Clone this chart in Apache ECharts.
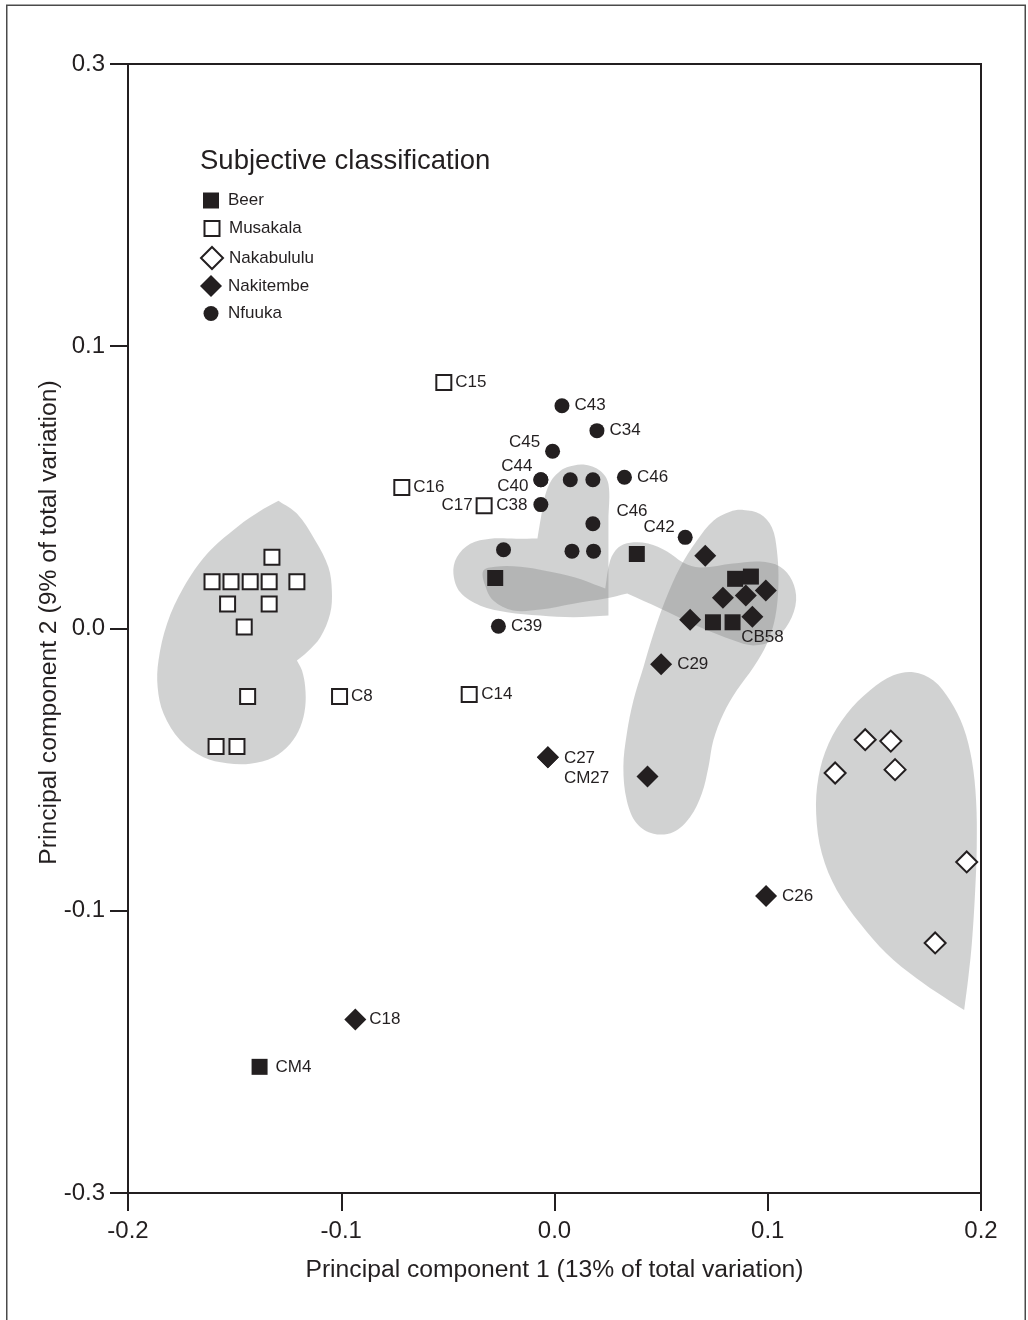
<!DOCTYPE html>
<html><head><meta charset="utf-8">
<script src="https://cdn.jsdelivr.net/npm/echarts@6/dist/echarts.min.js"></script>
<style>html,body{margin:0;padding:0;background:#fff}#c{width:1028px;height:1320px}</style>
</head><body><div id="c"></div>
<script>
// ---- categories / tick labels ----
const seriesNames = ['Beer', 'Musakala', 'Nakabululu', 'Nakitembe', 'Nfuuka'];
const xTickLabels = ['-0.2', '-0.1', '0.0', '0.1', '0.2'];
const yTickLabels = ['-0.3', '-0.1', '0.0', '0.1', '0.3'];
const xTitle = 'Principal component 1 (13% of total variation)';
const yTitle = 'Principal component 2 (9% of total variation)';
const legendTitle = 'Subjective classification';

// ---- points: [PC1, PC2, sample label] ----
const beerPoints = [
  [-0.0278, 0.0179, ''], [0.0386, 0.0264, ''], [0.0847, 0.0176, ''], [0.0921, 0.0184, ''],
  [0.0743, 0.0022, ''], [0.0835, 0.0022, ''], [-0.1383, -0.1553, 'CM4']
];
const musakalaPoints = [
  [-0.1325, 0.0252, ''], [-0.1606, 0.0166, ''], [-0.1517, 0.0166, ''], [-0.1427, 0.0166, ''],
  [-0.1338, 0.0166, ''], [-0.1208, 0.0166, ''], [-0.1533, 0.0087, ''], [-0.1338, 0.0087, ''],
  [-0.1455, 0.0005, ''], [-0.1439, -0.0241, ''], [-0.1587, -0.0418, ''], [-0.1489, -0.0418, ''],
  [-0.1008, -0.0241, 'C8'], [-0.0519, 0.0872, 'C15'], [-0.0716, 0.0500, 'C16'],
  [-0.0330, 0.0435, 'C17'], [-0.0400, -0.0234, 'C14']
];
const nakabululuPoints = [
  [0.1457, -0.0394, ''], [0.1577, -0.0399, ''], [0.1316, -0.0512, ''], [0.1597, -0.0500, ''],
  [0.1933, -0.0827, ''], [0.1785, -0.1114, '']
];
const nakitembePoints = [
  [0.0707, 0.0258, ''], [0.0790, 0.0109, ''], [0.0897, 0.0117, ''], [0.0991, 0.0135, ''],
  [0.0636, 0.0031, ''], [0.0928, 0.0042, 'CB58'], [0.0500, -0.0127, 'C29'], [0.0436, -0.0524, ''],
  [-0.0031, -0.0456, 'C27'], [-0.0031, -0.0456, 'CM27'], [0.0992, -0.0948, 'C26'],
  [-0.0934, -0.1385, 'C18']
];
const nfuukaPoints = [
  [0.0035, 0.0789, 'C43'], [0.0199, 0.0701, 'C34'], [-0.0009, 0.0628, 'C45'],
  [-0.0064, 0.0527, 'C44'], [-0.0064, 0.0527, 'C40'], [0.0074, 0.0527, ''], [0.0180, 0.0527, ''],
  [0.0328, 0.0536, 'C46'], [-0.0064, 0.0439, 'C38'], [0.0180, 0.0371, 'C46'],
  [-0.0239, 0.0279, ''], [0.0082, 0.0274, ''], [0.0183, 0.0274, ''],
  [0.0613, 0.0323, 'C42'], [-0.0263, 0.0008, 'C39']
];

// ---- group outlines (PC1, PC2); a repeated vertex marks a sharp corner ----
const blobMusakala = [
  [-0.1294, 0.0453], [-0.1294, 0.0453], [-0.1208, 0.0407], [-0.1122, 0.0312], [-0.1060, 0.0217], [-0.1044, 0.0135],
  [-0.1052, 0.0053], [-0.1098, -0.0031], [-0.1161, -0.0084], [-0.1208, -0.0113], [-0.1208, -0.0113], [-0.1184, -0.0149],
  [-0.1169, -0.0208], [-0.1169, -0.0278], [-0.1192, -0.0349], [-0.1239, -0.0408], [-0.1317, -0.0456],
  [-0.1427, -0.0479], [-0.1536, -0.0477], [-0.1646, -0.0456], [-0.1755, -0.0396], [-0.1833, -0.0302],
  [-0.1861, -0.0208], [-0.1857, -0.0113], [-0.1817, 0.0017], [-0.1739, 0.0146], [-0.1630, 0.0264],
  [-0.1489, 0.0359], [-0.1364, 0.0424]
];
const blobNfuuka = [
  [0.0058, 0.0571], [0.0136, 0.0581], [0.0214, 0.0559], [0.0253, 0.0512], [0.0253, 0.0382],
  [0.0253, 0.0170], [0.0253, 0.0046], [0.0253, 0.0046], [0.0089, 0.0040], [-0.0067, 0.0046], [-0.0223, 0.0058],
  [-0.0348, 0.0081], [-0.0442, 0.0128], [-0.0474, 0.0194], [-0.0458, 0.0252], [-0.0395, 0.0300],
  [-0.0301, 0.0318], [-0.0176, 0.0318], [-0.0080, 0.0319], [-0.0080, 0.0319], [-0.0062, 0.0400], [-0.0044, 0.0471],
  [-0.0015, 0.0524], [0.0019, 0.0553]
];
const blobBeer = [
  [-0.0334, 0.0205], [-0.0278, 0.0219], [-0.0161, 0.0219], [-0.0044, 0.0205], [0.0097, 0.0181],
  [0.0214, 0.0149], [0.0238, 0.0142], [0.0238, 0.0142], [0.0261, 0.0241], [0.0299, 0.0287], [0.0355, 0.0304],
  [0.0439, 0.0301], [0.0528, 0.0273], [0.0603, 0.0234], [0.0683, 0.0216], [0.0837, 0.0230],
  [0.0964, 0.0237], [0.1058, 0.0219], [0.1114, 0.0170], [0.1133, 0.0099], [0.1100, 0.0021],
  [0.1025, -0.0042], [0.0932, -0.0060], [0.0838, -0.0042], [0.0683, 0.0004], [0.0496, 0.0071],
  [0.0341, 0.0124], [0.0341, 0.0124], [0.0238, 0.0106], [0.0088, 0.0088], [-0.0067, 0.0067], [-0.0194, 0.0064],
  [-0.0287, 0.0099], [-0.0325, 0.0152]
];
const blobNakitembe = [
  [0.0886, 0.0420], [0.0964, 0.0406], [0.1019, 0.0359], [0.1043, 0.0276], [0.1050, 0.0158],
  [0.1035, 0.0040], [0.0996, -0.0054], [0.0933, -0.0137], [0.0855, -0.0219], [0.0792, -0.0302],
  [0.0745, -0.0396], [0.0722, -0.0491], [0.0691, -0.0585], [0.0636, -0.0668], [0.0558, -0.0721],
  [0.0464, -0.0727], [0.0386, -0.0691], [0.0339, -0.0609], [0.0323, -0.0491], [0.0339, -0.0373],
  [0.0370, -0.0255], [0.0417, -0.0137], [0.0464, -0.0019], [0.0519, 0.0099], [0.0589, 0.0217],
  [0.0668, 0.0312], [0.0745, 0.0382], [0.0823, 0.0414]
];
const blobNakabululu = [
  [0.1683, -0.0155], [0.1777, -0.0184], [0.1855, -0.0255], [0.1917, -0.0349], [0.1957, -0.0467],
  [0.1977, -0.0609], [0.1980, -0.0774], [0.1972, -0.0939], [0.1957, -0.1116], [0.1941, -0.1234],
  [0.1921, -0.1352], [0.1921, -0.1352], [0.1824, -0.1305], [0.1699, -0.1240], [0.1558, -0.1152], [0.1433, -0.1045],
  [0.1324, -0.0927], [0.1254, -0.0798], [0.1227, -0.0656], [0.1238, -0.0526], [0.1285, -0.0408],
  [0.1371, -0.0302], [0.1480, -0.0219], [0.1589, -0.0166]
];

// ---- styles (kept apart from data) ----
const INK = '#231f20';
const FONT = '"Liberation Sans", Arial, Helvetica, sans-serif';
const blobs = [blobMusakala, blobNfuuka, blobBeer, blobNakitembe, blobNakabululu];
const pointSets = [beerPoints, musakalaPoints, nakabululuPoints, nakitembePoints, nfuukaPoints];
const markStyle = [
  { symbol: 'rect', size: 16, itemStyle: { color: INK } },
  { symbol: 'rect', size: 15, itemStyle: { color: '#fff', borderColor: INK, borderWidth: 2 } },
  { symbol: 'diamond', size: 21, itemStyle: { color: '#fff', borderColor: INK, borderWidth: 2 } },
  { symbol: 'diamond', size: 22, itemStyle: { color: INK } },
  { symbol: 'circle', size: 15, itemStyle: { color: INK } }
];
const legendLayout = [
  { left: 203, cy: 201, size: 16, pad: 4 },
  { left: 203.5, cy: 229, size: 15, pad: 4.5 },
  { left: 200, cy: 257, size: 22, pad: 1 },
  { left: 200, cy: 286, size: 22, pad: 1 },
  { left: 203.5, cy: 314, size: 15, pad: 4.5 }
];
const labelPlace = {
  'C45': { position: 'left', distance: 5, offset: [0, -9] },
  'C44': { position: 'left', distance: 1, offset: [0, -13] },
  'C40': { position: 'left', distance: 5, offset: [0, 7] },
  'C38': { position: 'left', distance: 6, offset: [0, 1] },
  'C17': { position: 'left', distance: 3 },
  'C46#2': { position: 'right', distance: 16, offset: [0, -12] },
  'C42': { position: 'left', distance: 3, offset: [0, -10] },
  'CB58': { position: 'bottom', distance: 1, offset: [10, 0] },
  'C27': { position: 'right', distance: 5, offset: [0, 1] },
  'CM27': { position: 'right', distance: 5, offset: [0, 21] },
  'CM4': { position: 'right', distance: 8 },
  'C8': { position: 'right', distance: 3 },
  'C14': { position: 'right', distance: 3.5 },
  'C15': { position: 'right', distance: 3 },
  'C16': { position: 'right', distance: 3 },
  'C18': { position: 'right', distance: 3 }
};

const seen = {};
function buildData(points) {
  return points.map(p => {
    const name = p[2];
    const item = { value: [p[0], p[1]], name: name };
    if (name) {
      seen[name] = (seen[name] || 0) + 1;
      const key = seen[name] > 1 ? name + '#' + seen[name] : name;
      const pl = labelPlace[key] || { position: 'right', distance: 5 };
      item.label = Object.assign({ show: true, formatter: name }, pl);
    } else {
      item.label = { show: false };
    }
    return item;
  });
}

const chart = echarts.init(document.getElementById('c'), null, { renderer: 'canvas' });

const scatterSeries = seriesNames.map((name, i) => ({
  name: name,
  type: 'scatter',
  symbol: markStyle[i].symbol,
  symbolSize: markStyle[i].size,
  itemStyle: Object.assign({ opacity: 1 }, markStyle[i].itemStyle),
  z: 5,
  label: { show: false, color: INK, fontSize: 17, fontFamily: FONT },
  emphasis: { disabled: true },
  data: buildData(pointSets[i])
}));

const blobSeries = {
  type: 'custom',
  name: 'groups',
  silent: true,
  z: 1,
  clip: false,
  data: blobs.map(b => b[0]),
  renderItem: function (params, api) {
    const pts = blobs[params.dataIndex].map(p => api.coord(p));
    return {
      type: 'polygon',
      shape: { points: pts, smooth: 0.35 },
      style: { fill: 'rgba(131,133,134,0.37)', stroke: null }
    };
  }
};

const legends = seriesNames.map((name, i) => {
  const L = legendLayout[i];
  return {
    data: [name],
    orient: 'vertical',
    left: L.left,
    top: L.cy - Math.max(L.size, 18) / 2,
    padding: 0,
    itemWidth: L.size,
    itemHeight: L.size,
    selectedMode: false,
    textStyle: { fontSize: 17, color: INK, fontFamily: FONT, padding: [0, 0, 0, L.pad] }
  };
});

const option = {
  backgroundColor: '#fff',
  animation: false,
  textStyle: { fontFamily: FONT },
  grid: {
    left: 128, right: 47, top: 64, bottom: 127,
    containLabel: false, outerBoundsMode: 'none',
    show: true, borderColor: INK, borderWidth: 2, backgroundColor: 'transparent'
  },
  legend: legends,
  xAxis: {
    type: 'value', min: -0.2, max: 0.2, interval: 0.1,
    name: xTitle, nameLocation: 'middle', nameGap: 65, nameMoveOverlap: false,
    nameTextStyle: { fontSize: 24.7, color: INK, fontFamily: FONT },
    axisLine: { show: true, onZero: false, lineStyle: { color: INK, width: 2 } },
    axisTick: { show: true, inside: false, length: 18, lineStyle: { color: INK, width: 2 } },
    axisLabel: {
      fontSize: 24, color: INK, fontFamily: FONT, margin: 26,
      formatter: v => xTickLabels[Math.round((v + 0.2) / 0.1)]
    },
    splitLine: { show: false }
  },
  yAxis: {
    type: 'value', min: -0.2, max: 0.2, interval: 0.1,
    name: yTitle, nameLocation: 'middle', nameGap: 66, nameMoveOverlap: false,
    nameTextStyle: { fontSize: 24.7, color: INK, fontFamily: FONT, padding: [0, 0, 0, 12] },
    axisLine: { show: true, onZero: false, lineStyle: { color: INK, width: 2 } },
    axisTick: { show: true, inside: false, length: 18, lineStyle: { color: INK, width: 2 } },
    axisLabel: {
      fontSize: 24, color: INK, fontFamily: FONT, margin: 23,
      formatter: v => yTickLabels[Math.round((v + 0.2) / 0.1)]
    },
    splitLine: { show: false }
  },
  graphic: [
    {
      type: 'rect', silent: true, z: 100,
      shape: { x: 6.75, y: 5.25, width: 1018.5, height: 1340 },
      style: { fill: null, stroke: '#4a4a4a', lineWidth: 1.5 }
    },
    {
      type: 'text', silent: true, z: 100,
      x: 200, y: 161,
      style: { text: legendTitle, fontSize: 27.5, fill: INK, fontFamily: FONT, verticalAlign: 'middle', align: 'left' }
    }
  ],
  series: [blobSeries].concat(scatterSeries)
};
chart.setOption(option);
</script>
</body></html>
